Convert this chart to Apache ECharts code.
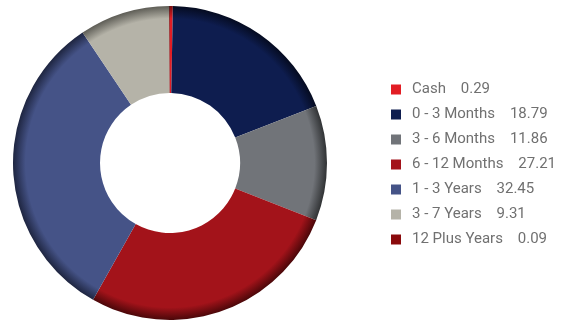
<!DOCTYPE html>
<html><head><meta charset="utf-8">
<script src="https://cdn.jsdelivr.net/npm/echarts@6/dist/echarts.min.js"></script>
<style>html,body{margin:0;padding:0;background:#fff}#c{width:563px;height:322px}</style>
</head><body><div id="c"></div>
<script>
const categories = ['Cash','0 - 3 Months','3 - 6 Months','6 - 12 Months','1 - 3 Years','3 - 7 Years','12 Plus Years'];
const values = [0.29, 18.79, 11.86, 27.21, 32.45, 9.31, 0.09];
const colors = ['#e21d24','#0e1d4f','#717479','#a3131a','#455387','#b5b3a8','#8a0a0c'];
const edgeColors = ['#7a0d10','#050b20','#303234','#4a0709','#1e2540','#5e5d56','#400305'];

const cx = 170, cy = 163, R = 157, r0 = 70;
function grad(i){
  return {type:'radial', x:cx, y:cy, r:R, global:true,
    colorStops:[{offset:0,color:colors[i]},{offset:0.92,color:colors[i]},{offset:1,color:edgeColors[i]}]};
}
const chart = echarts.init(document.getElementById('c'), null, {renderer:'canvas'});
const valMap = {};
categories.forEach((c,i)=>valMap[c]=values[i]);
chart.setOption({
  animation:false,
  color: colors,
  legend:{
    orient:'vertical', left:386, top:77,
    itemWidth:10, itemHeight:10, itemGap:10, icon:'rect',
    textStyle:{fontFamily:'Roboto', fontSize:15, color:'#707070', padding:[0,0,0,6]},
    formatter: n => n + '    ' + valMap[n].toFixed(2),
    data: categories.map((c,i)=>({name:c, itemStyle:{color:colors[i]}}))
  },
  series:[{
    type:'pie', center:[cx,cy], radius:[r0,R], startAngle:90, clockwise:true,
    label:{show:false}, labelLine:{show:false}, silent:true,
    data: categories.map((c,i)=>({name:c, value:values[i], itemStyle:{color:grad(i)}}))
  }]
});
</script></body></html>
